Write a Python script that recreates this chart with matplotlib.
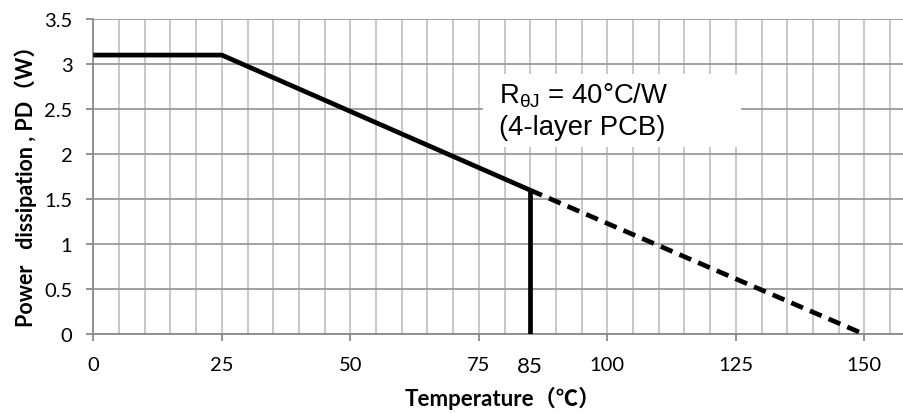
import matplotlib
matplotlib.use("Agg")
import matplotlib.pyplot as plt
from matplotlib.patches import Rectangle

plt.rcParams['mathtext.fontset'] = 'custom'
plt.rcParams['mathtext.rm'] = 'Liberation Sans'
plt.rcParams['mathtext.it'] = 'Liberation Sans'

# derating curve
temp_solid = [0, 25, 85]
pd_solid = [3.1, 3.1, 1.6]
temp_dash = [85, 150]
pd_dash = [1.6, 0]
temp_limit = [85, 85]
pd_limit = [0, 1.6]

xticks = [0, 25, 50, 75, 85, 100, 125, 150]
yticks = [0, 0.5, 1, 1.5, 2, 2.5, 3, 3.5]
ytick_labels = ['0', '0.5', '1', '1.5', '2', '2.5', '3', '3.5']

tick_font = ['Lato', 'DejaVu Sans']
cjk_font = ['Lato', 'Noto Sans CJK JP', 'DejaVu Sans']

fig = plt.figure(figsize=(9.04, 4.14), dpi=100)
ax = fig.add_axes([0.1032, 0.190, 0.8968, 0.7616])

ax.set_xlim(0, 157.7)
ax.set_ylim(0, 3.5)

# grid
ax.set_xticks(list(range(0, 160, 5)), minor=True)
ax.grid(True, which='minor', axis='x', color='#c4c4c4', lw=1.3, zorder=0)
ax.grid(True, which='major', axis='x', color='#c4c4c4', lw=1.3, zorder=0)
ax.grid(True, which='major', axis='y', color='#9a9a9a', lw=1.3, zorder=0)
ax.tick_params(which='minor', length=0)
ax.set_axisbelow(True)

for s in ['top', 'right']:
    ax.spines[s].set_visible(False)
for s in ['left', 'bottom']:
    ax.spines[s].set_color('#8a8a8a')
    ax.spines[s].set_linewidth(1.3)

ax.set_xticks(xticks)
ax.set_xticklabels([str(t) for t in xticks], fontsize=14.5, family=tick_font)
ax.set_yticks(yticks)
ax.set_yticklabels(ytick_labels, fontsize=14.5, family=tick_font)
ax.tick_params(axis='both', which='major', color='#8a8a8a', width=1.3, length=5)
ax.tick_params(axis='x', pad=10.5)
ax.tick_params(axis='y', pad=10)
i85 = xticks.index(85)
ax.xaxis.get_major_ticks()[i85].tick1line.set_visible(False)
ax.get_xticklabels()[i85].set_fontsize(16)

# white box behind annotation
ax.add_patch(Rectangle((75.8, 2.08), 50.2, 0.81, facecolor='white',
                       edgecolor='none', zorder=1))

ax.plot(temp_solid, pd_solid, color='black', lw=3.4, solid_capstyle='butt', zorder=3)
ax.plot(temp_limit, pd_limit, color='black', lw=3.4, solid_capstyle='butt', zorder=3)
ax.plot(temp_dash, pd_dash, color='black', lw=3.4, linestyle=(0, (2.7, 1.6)),
        dash_capstyle='butt', zorder=3)

ax.text(79.0, 2.575, r'R$_{\mathrm{\theta J}}$ = 40°C/W', fontsize=19.8,
        family='Liberation Sans', va='baseline', ha='left', zorder=4)
ax.text(79.0, 2.22, '(4-layer PCB)', fontsize=19.8,
        family='Liberation Sans', va='baseline', ha='left', zorder=4)

ax.set_xlabel('Temperature（℃）', fontsize=16, fontweight='bold', family=cjk_font)
ax.xaxis.set_label_coords(0.505, -0.165)
ax.set_ylabel('Power   dissipation , PD（W）', fontsize=15.5, fontweight='bold',
              family=cjk_font)
ax.yaxis.set_label_coords(-0.07, 0.49)

fig.savefig('out.png', dpi=100)
